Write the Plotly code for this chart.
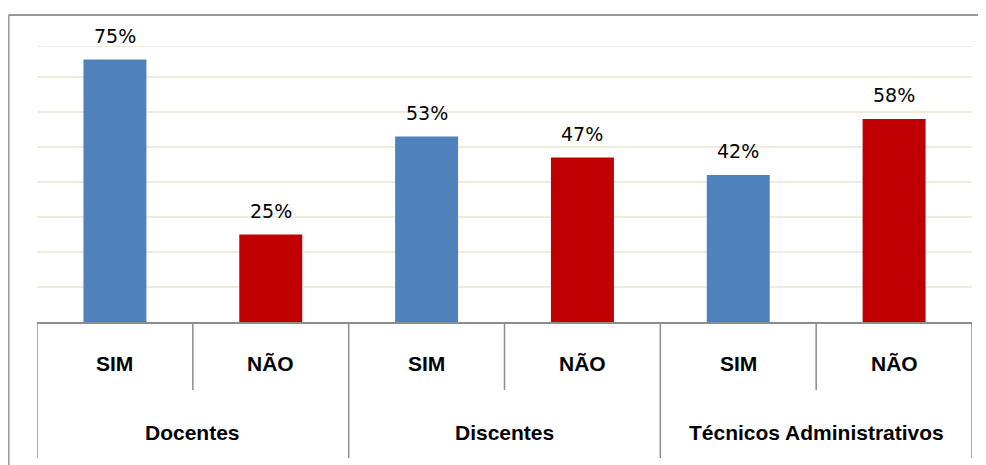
import plotly.graph_objects as go

# chart data
groups = ["Docentes", "Discentes", "Técnicos Administrativos"]
answers = ["SIM", "NÃO"]
sim_values = [75, 53, 42]
nao_values = [25, 47, 58]

BLUE = "#4F81BD"
RED = "#C00000"
GRID = "#EDEDDF"
LINE = "#8C8C8C"

# the page body has an 8px margin, so the figure sits 8px right/down
OFF = 8
W, H = 986, 465
# plot area in window pixels: x 37..972, y 46..322
L, T = 37 - OFF, 46 - OFF
R = W - (972 - OFF)
B = H - (322 - OFF)
plot_h = H - T - B
plot_w = W - L - R
y_top = plot_h / 3.5  # 3.5 px per percentage point


def py(pixel_y):
    """window pixel row -> paper y"""
    return (322 - pixel_y) / plot_h


def px(pixel_x):
    """window pixel column -> paper x"""
    return (pixel_x - 37) / plot_w


# one bar per (group, answer)
keys, values, colors = [], [], []
for g, s, n in zip(groups, sim_values, nao_values):
    keys += [g + "|SIM", g + "|NÃO"]
    values += [s, n]
    colors += [BLUE, RED]

fig = go.Figure(go.Bar(
    x=keys,
    y=values,
    marker=dict(color=colors, line=dict(width=0)),
    hoverinfo="skip",
))

label_font = dict(family="Liberation Sans", size=21, color="black", weight="bold")

# value labels above bars
for i, v in enumerate(values):
    fig.add_annotation(
        x=i, y=v, text=f"{v}%", showarrow=False,
        yanchor="bottom", yshift=11,
        font=dict(family="DejaVu Sans", size=19, color="black"),
    )

# category labels (two levels)
for i, k in enumerate(keys):
    fig.add_annotation(
        x=i, y=py(363), yref="paper", text=k.split("|")[1], showarrow=False,
        yanchor="middle", font=label_font,
    )
for j, g in enumerate(groups):
    fig.add_annotation(
        x=2 * j + 0.5, y=py(432), yref="paper", text=g, showarrow=False,
        yanchor="middle", font=label_font,
    )

shapes = []
# top gridline sits on the plot edge
shapes.append(dict(type="line", xref="paper", yref="y",
                   x0=0, x1=1, y0=y_top, y1=y_top,
                   line=dict(color=GRID, width=2), layer="below"))

# dividers under the axis
for j in range(len(groups) + 1):
    shapes.append(dict(type="line", xref="x", yref="paper",
                       x0=2 * j - 0.5, x1=2 * j - 0.5, y0=0, y1=py(458),
                       line=dict(color=LINE, width=1.5)))
for j in range(len(groups)):
    shapes.append(dict(type="line", xref="x", yref="paper",
                       x0=2 * j + 0.5, x1=2 * j + 0.5, y0=0, y1=py(390),
                       line=dict(color=LINE, width=1.5)))

# outer chart border (top and left edges)
shapes.append(dict(type="line", xref="paper", yref="paper",
                   x0=px(8.5), x1=px(1000), y0=py(15), y1=py(15),
                   line=dict(color="#999999", width=2)))
shapes.append(dict(type="line", xref="paper", yref="paper",
                   x0=px(8.5), x1=px(8.5), y0=py(15), y1=py(480),
                   line=dict(color="#999999", width=2)))

fig.update_layout(
    width=W, height=H,
    margin=dict(l=L, r=R, t=T, b=B),
    plot_bgcolor="white", paper_bgcolor="white",
    bargap=0.596,
    showlegend=False,
    shapes=shapes,
)
fig.update_xaxes(
    showticklabels=False, showgrid=False, ticks="",
    showline=True, linecolor=LINE, linewidth=1.5,
    range=[-0.5, len(keys) - 0.5],
)
fig.update_yaxes(
    range=[0, y_top], showticklabels=False, ticks="",
    tickvals=[10, 20, 30, 40, 50, 60, 70],
    showgrid=True, gridcolor=GRID, gridwidth=1.5,
    zeroline=False, showline=False,
)

fig.write_html("out.html")
